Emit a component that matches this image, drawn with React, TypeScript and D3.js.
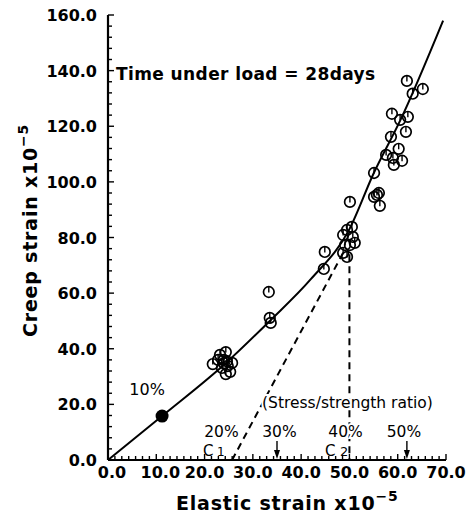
import React from "react";
import * as d3 from "d3";

const W = 473;
const H = 515;

// axis domains and tick labels
const xDomain = [0, 70];
const yDomain = [0, 160];
const xTickValues = [0, 10, 20, 30, 40, 50, 60, 70];
const yTickValues = [0, 20, 40, 60, 80, 100, 120, 140, 160];

// measured creep/elastic points (x = elastic strain, y = creep strain)
const elastic = [
  21.7, 23.2, 24.0, 24.8, 23.6, 25.3, 24.4, 25.7, 22.8, 24.4, 24.0, 24.6,
  33.3, 33.5, 33.7,
  44.9, 44.7,
  48.7, 49.5, 50.5, 50.7, 49.1, 50.1, 48.7, 49.5, 51.1, 50.1,
  61.9, 63.1, 65.2, 58.8, 60.5, 62.1, 61.7, 58.6, 57.6, 60.2, 59.0, 59.2, 60.9,
  55.1, 56.1, 55.1, 56.3, 55.7,
];
const creep = [
  34.5, 37.8, 36.0, 33.8, 33.1, 31.7, 30.9, 34.9, 36.0, 38.8, 34.8, 35.5,
  60.4, 51.1, 49.3,
  74.8, 68.7,
  80.9, 82.7, 83.8, 80.2, 77.3, 77.3, 74.5, 73.0, 78.1, 92.8,
  136.3, 131.7, 133.4, 124.5, 122.3, 123.4, 118.0, 116.2, 109.7, 111.9, 108.6, 106.1, 107.6,
  103.2, 96.0, 94.6, 91.4, 95.3,
];

// 10% loading point (filled)
const solidPoint = [11.2, 15.8];

// fitted curve
const curveX = [0, 11.2, 24.2, 33.5, 42, 50, 55, 60.5, 69.4];
const curveY = [0, 15.8, 34.5, 50, 65, 83, 103, 122, 158];

// dashed construction lines
const dashC1 = [[25.7, 0], [48.7, 74.5]];
const dashC2 = [[50, 74], [50, 0]];

// stress/strength ratio labels
const ratioLabels = ["20%", "30%", "40%", "50%"];
const ratioLabelX = [23.5, 35.5, 49.2, 61.3];
const arrowX = [35.0, 61.9];

export default function App() {
  const x = d3.scaleLinear().domain(xDomain).range([108, 446]);
  const y = d3.scaleLinear().domain(yDomain).range([460, 15]);

  const line = d3
    .line<number>()
    .x((_, i) => x(curveX[i]))
    .y((_, i) => y(curveY[i]))
    .curve(d3.curveMonotoneX);

  const xMinor = d3.range(0, 70.001, 10 / 7);
  const yMinor = d3.range(0, 160.001, 4);

  const font = "'DejaVu Sans', Verdana, sans-serif";
  const halo = { paintOrder: "stroke", stroke: "#fff", strokeWidth: 4 } as any;

  return (
    <svg
      width={W}
      height={H}
      style={{ position: "absolute", left: 0, top: 0, background: "#fff" }}
      fontFamily={font}
    >
      <rect width={W} height={H} fill="#fff" />
      {/* axes */}
      <line x1={x(0)} x2={x(70)} y1={y(0)} y2={y(0)} stroke="#000" strokeWidth={2.2} />
      <line x1={x(0)} x2={x(0)} y1={y(0)} y2={y(160)} stroke="#000" strokeWidth={2.2} />
      {xMinor.map((v, i) => (
        <line key={"xm" + i} x1={x(v)} x2={x(v)} y1={y(0)} y2={y(0) - (i % 7 === 0 ? 6 : 4)} stroke="#000" strokeWidth={1.4} />
      ))}
      {yMinor.map((v, i) => (
        <line key={"ym" + i} x1={x(0)} x2={x(0) + (i % 5 === 0 ? 6 : 4)} y1={y(v)} y2={y(v)} stroke="#000" strokeWidth={1.4} />
      ))}
      {xTickValues.map((v) => (
        <text key={"xt" + v} x={x(v) + (v === 0 ? 4 : v === 10 ? 4 : 0)} y={478} textAnchor="middle" fontSize={16} fontWeight="bold">
          {v.toFixed(1)}
        </text>
      ))}
      {yTickValues.map((v) => (
        <text key={"yt" + v} x={97} y={y(v) + 6} textAnchor="end" fontSize={16} fontWeight="bold">
          {v.toFixed(1)}
        </text>
      ))}
      {/* axis titles */}
      <text x={176} y={510} fontSize={19} fontWeight="bold" letterSpacing={0.8}>
        Elastic strain x10
        <tspan fontSize={14} dy={-9}>−5</tspan>
      </text>
      <text transform="translate(37,337) rotate(-90)" fontSize={19} fontWeight="bold" letterSpacing={0.8}>
        Creep strain x10
        <tspan fontSize={14} dy={-9}>−5</tspan>
      </text>
      <text x={116} y={80} fontSize={17} fontWeight="bold" letterSpacing={0.4}>
        Time under load = 28days
      </text>

      {/* dashed lines */}
      <line x1={x(dashC1[0][0])} y1={y(dashC1[0][1])} x2={x(dashC1[1][0])} y2={y(dashC1[1][1])} stroke="#000" strokeWidth={2} strokeDasharray="7,5" />
      <line x1={x(dashC2[0][0])} y1={y(dashC2[0][1])} x2={x(dashC2[1][0])} y2={y(dashC2[1][1])} stroke="#000" strokeWidth={2} strokeDasharray="7,5" />

      {/* curve */}
      <path d={line(curveX) || ""} fill="none" stroke="#000" strokeWidth={2} />

      {/* points */}
      {elastic.map((e, i) => (
        <g key={"p" + i} transform={`translate(${x(e)},${y(creep[i])})`}>
          <circle r={5.3} fill="none" stroke="#000" strokeWidth={1.7} />
          <line x1={0} x2={0} y1={-5} y2={0.5} stroke="#000" strokeWidth={1.4} />
        </g>
      ))}
      <circle cx={x(solidPoint[0])} cy={y(solidPoint[1])} r={6.5} fill="#000" />

      {/* labels */}
      <text x={x(solidPoint[0]) - 15} y={395} textAnchor="middle" fontSize={16} style={halo}>10%</text>
      <text x={262} y={408} fontSize={15.5} style={halo}>(Stress/strength ratio)</text>
      {ratioLabels.map((t, i) => (
        <text key={t} x={x(ratioLabelX[i])} y={437} textAnchor="middle" fontSize={15.5} style={halo}>{t}</text>
      ))}
      <text x={203} y={456} fontSize={15}>C</text>
      <text x={217} y={456} fontSize={12}>1</text>
      <text x={325} y={456} fontSize={15}>C</text>
      <text x={340} y={456} fontSize={13}>2</text>
      {arrowX.map((a) => (
        <g key={"a" + a}>
          <line x1={x(a)} x2={x(a)} y1={441} y2={452} stroke="#000" strokeWidth={1.4} />
          <path d={`M${x(a) - 3},${450} L${x(a) + 3},${450} L${x(a)},${459} Z`} fill="#000" />
        </g>
      ))}
    </svg>
  );
}
